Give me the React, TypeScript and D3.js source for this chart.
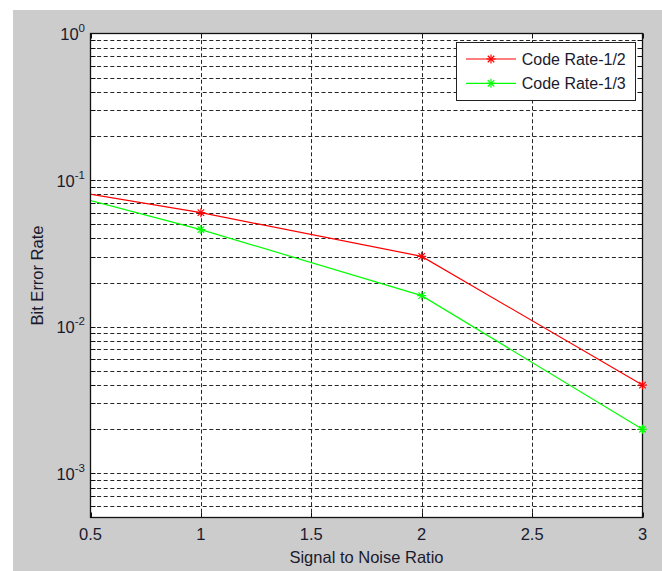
import React from 'react'
import { scaleLinear, scaleLog, line, range } from 'd3'

// signal to noise ratio points (first point sits left of the visible axis and is clipped)
const snr = [0, 1, 2, 3]
const rateHalf = [0.107, 0.06, 0.0302, 0.004]
const rateThird = [0.115, 0.046, 0.0163, 0.002]
const seriesNames = ['Code Rate-1/2', 'Code Rate-1/3']
const seriesColors = ['#ff0000', '#00ff00']
const xTicks = [0.5, 1, 1.5, 2, 2.5, 3]
const yDecades = [-3, -2, -1, 0]

const W = 662
const H = 571
const font = '"Liberation Sans", Arial, sans-serif'
const textColor = '#1a1a2e'

const px = (v: number) => Math.round(v) + 0.5

function Asterisk(props: { x: number; y: number; color: string; r?: number }) {
  const { x, y, color } = props
  const r = props.r || 4.5
  const d = r * 0.72
  return (
    <g stroke={color} strokeWidth={1.2}>
      <line x1={x - r} y1={y} x2={x + r} y2={y} />
      <line x1={x} y1={y - r} x2={x} y2={y + r} />
      <line x1={x - d} y1={y - d} x2={x + d} y2={y + d} />
      <line x1={x - d} y1={y + d} x2={x + d} y2={y - d} />
    </g>
  )
}

export default function App() {
  const left = 90.5
  const right = 642.5
  const top = 33.5
  const bottom = 517.5

  const xScale = scaleLinear().domain([0.5, 3]).range([left, right])
  const yScale = scaleLog().domain([5e-4, 1]).range([bottom, top])

  // minor log values 2..9 for each decade inside the domain
  const minor: number[] = []
  for (let d = -4; d < 0; d++) {
    range(2, 10).forEach((k) => {
      const v = k * Math.pow(10, d)
      if (v > 5e-4 && v < 1) minor.push(v)
    })
  }
  const majorY = [1e-3, 1e-2, 1e-1]

  const drawLine = line<number>()
    .x((d, i) => xScale(snr[i]))
    .y((d) => yScale(d))

  const series = [rateHalf, rateThird]
  const tick = 5

  const legX = 456.5
  const legY = 42.5
  const legW = 179
  const legH = 58

  return (
    <svg width={W} height={H} style={{ position: 'absolute', left: 0, top: 0, display: 'block' }} fontFamily={font}>
      <rect x={0} y={0} width={W} height={H} fill="#ffffff" />
      <rect x={13} y={10} width={W - 13} height={H - 10} fill="#cccccc" />
      <rect x={left} y={top} width={right - left} height={bottom - top} fill="#ffffff" />

      <defs>
        <clipPath id="plotClip">
          <rect x={left} y={top} width={right - left} height={bottom - top} />
        </clipPath>
      </defs>

      {/* grid */}
      <g stroke="#000" strokeWidth={1} strokeDasharray="4,2.6" fill="none" opacity={0.85}>
        {minor.concat(majorY).map((v, i) => (
          <line key={'gy' + i} x1={left} x2={right} y1={px(yScale(v))} y2={px(yScale(v))} />
        ))}
        {xTicks.slice(1, -1).map((v, i) => (
          <line key={'gx' + i} x1={px(xScale(v))} x2={px(xScale(v))} y1={top} y2={bottom} />
        ))}
      </g>

      {/* tick marks */}
      <g stroke="#111" strokeWidth={1}>
        {xTicks.map((v, i) => (
          <g key={'tx' + i}>
            <line x1={px(xScale(v))} x2={px(xScale(v))} y1={bottom} y2={bottom - tick} />
            <line x1={px(xScale(v))} x2={px(xScale(v))} y1={top} y2={top + tick} />
          </g>
        ))}
        {minor.concat(majorY).map((v, i) => (
          <g key={'ty' + i}>
            <line x1={left} x2={left + tick} y1={px(yScale(v))} y2={px(yScale(v))} />
            <line x1={right} x2={right - tick} y1={px(yScale(v))} y2={px(yScale(v))} />
          </g>
        ))}
      </g>

      {/* data lines, clipped to the axes */}
      <g clipPath="url(#plotClip)">
        {series.map((s, si) => (
          <path key={'s' + si} d={drawLine(s) || ''} fill="none" stroke={seriesColors[si]} strokeWidth={1.2} />
        ))}
      </g>

      <rect x={left} y={top} width={right - left} height={bottom - top} fill="none" stroke="#111" strokeWidth={1.3} />

      {/* markers for points inside the x range */}
      {series.map((s, si) => (
        <g key={'m' + si}>
          {s.map((v, i) =>
            snr[i] >= 0.5 ? (
              <Asterisk key={i} x={xScale(snr[i])} y={yScale(v)} color={seriesColors[si]} />
            ) : null
          )}
        </g>
      ))}

      {/* x tick labels */}
      <g fontSize={16.5} fill={textColor} textAnchor="middle">
        {xTicks.map((v, i) => (
          <text key={'lx' + i} x={xScale(v)} y={540}>{String(v)}</text>
        ))}
      </g>

      {/* y tick labels */}
      <g fill={textColor}>
        {yDecades.map((e, i) => (
          <text key={'ly' + i} x={85} y={yScale(Math.pow(10, e)) + 6.5} textAnchor="end" fontSize={16.5}>
            10
            <tspan dy={-8} fontSize={11.5}>{String(e)}</tspan>
          </text>
        ))}
      </g>

      <text x={(left + right) / 2} y={563} textAnchor="middle" fontSize={16.5} fill={textColor}>
        Signal to Noise Ratio
      </text>
      <text transform={`translate(43,${(top + bottom) / 2}) rotate(-90)`} textAnchor="middle" fontSize={16.5} fill={textColor}>
        Bit Error Rate
      </text>

      {/* legend */}
      <rect x={legX} y={legY} width={legW} height={legH} fill="#ffffff" stroke="#222" strokeWidth={1} />
      {seriesNames.map((name, i) => {
        const ly = 59 + i * 24.3
        return (
          <g key={'leg' + i}>
            <line x1={466} x2={516} y1={ly} y2={ly} stroke={seriesColors[i]} strokeWidth={1.2} />
            <Asterisk x={491} y={ly} color={seriesColors[i]} />
            <text x={521.7} y={ly + 6} fontSize={16} fill={textColor}>{name}</text>
          </g>
        )
      })}
    </svg>
  )
}
